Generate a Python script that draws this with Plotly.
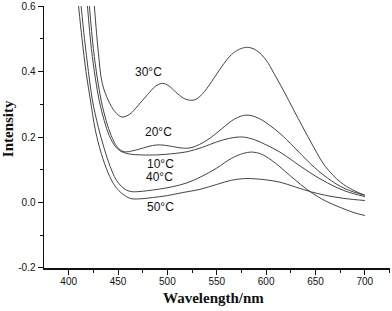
import plotly.graph_objects as go

wl_30 = [426, 430, 434, 440, 447, 454, 462, 470, 480, 488, 495, 502, 510, 518, 527, 535, 545, 555, 565, 573, 581, 590, 600, 608, 618, 628, 637, 648, 660, 675, 688, 700]
i_30 = [0.60, 0.46, 0.364, 0.313, 0.277, 0.261, 0.27, 0.295, 0.33, 0.355, 0.364, 0.355, 0.333, 0.316, 0.313, 0.33, 0.37, 0.415, 0.452, 0.468, 0.474, 0.465, 0.435, 0.394, 0.34, 0.282, 0.231, 0.17, 0.11, 0.063, 0.038, 0.022]

wl_20 = [421, 425, 429, 433, 438, 443, 449, 456, 465, 475, 485, 493, 503, 516, 525, 540, 555, 568, 580, 592, 603, 614, 628, 645, 662, 680, 700]
i_20 = [0.60, 0.47, 0.38, 0.31, 0.25, 0.205, 0.17, 0.155, 0.158, 0.166, 0.174, 0.176, 0.172, 0.166, 0.168, 0.19, 0.225, 0.255, 0.267, 0.258, 0.237, 0.211, 0.17, 0.118, 0.075, 0.042, 0.022]

wl_10 = [419, 423, 427, 431, 436, 441, 447, 453, 460, 468, 478, 488, 498, 508, 520, 535, 550, 563, 576, 588, 600, 614, 628, 645, 662, 680, 700]
i_10 = [0.60, 0.47, 0.38, 0.31, 0.25, 0.205, 0.172, 0.156, 0.149, 0.146, 0.145, 0.145, 0.147, 0.15, 0.155, 0.168, 0.185, 0.196, 0.2, 0.192, 0.176, 0.154, 0.125, 0.09, 0.06, 0.035, 0.018]

wl_40 = [412.6, 416, 420, 424, 430, 436, 442, 448, 455, 462, 470, 480, 492, 505, 520, 535, 550, 565, 577, 585, 595, 605, 614, 625, 635, 645, 660, 675, 688, 700]
i_40 = [0.60, 0.5, 0.4, 0.313, 0.23, 0.165, 0.11, 0.07, 0.045, 0.034, 0.033, 0.036, 0.041, 0.048, 0.06, 0.08, 0.105, 0.135, 0.15, 0.154, 0.148, 0.13, 0.109, 0.08, 0.055, 0.032, 0.005, -0.015, -0.03, -0.04]

wl_50 = [410, 413.5, 417.5, 422, 427, 433, 440, 447, 455, 463, 472, 485, 500, 515, 533, 550, 565, 578, 590, 600, 614, 630, 645, 660, 680, 700]
i_50 = [0.60, 0.5, 0.4, 0.313, 0.221, 0.15, 0.09, 0.05, 0.025, 0.012, 0.011, 0.015, 0.021, 0.03, 0.04, 0.055, 0.068, 0.073, 0.072, 0.069, 0.062, 0.047, 0.033, 0.022, 0.012, 0.006]

series = [("30°C", wl_30, i_30), ("20°C", wl_20, i_20), ("10°C", wl_10, i_10),
          ("40°C", wl_40, i_40), ("50°C", wl_50, i_50)]

label_text = ["30°C", "20°C", "10°C", "40°C", "50°C"]
label_x = [481, 490.6, 492.8, 491.9, 492.9]
label_y = [0.399, 0.216, 0.119, 0.078, -0.014]

x_ticks = [400, 450, 500, 550, 600, 650, 700]
y_ticks = [-0.2, 0.0, 0.2, 0.4, 0.6]
y_tick_text = ["-0.2", "0.0", "0.2", "0.4", "0.6"]

fig = go.Figure()
for name, x, y in series:
    fig.add_trace(go.Scatter(x=x, y=y, mode="lines", name=name,
                             line=dict(color="#444444", width=1, shape="spline", smoothing=1.0),
                             showlegend=False, hoverinfo="skip", cliponaxis=True))

for t, x, y in zip(label_text, label_x, label_y):
    fig.add_annotation(x=x, y=y, text=t, showarrow=False,
                       font=dict(family="Liberation Sans, Arial", size=12, color="#111111"))

fig.add_annotation(xref="paper", yref="paper", x=-0.104, y=0.53, text="<b>Intensity</b>",
                   textangle=-90, showarrow=False, xanchor="center", yanchor="middle",
                   font=dict(family="Liberation Serif, Times New Roman", size=15, color="#111111"))
fig.add_annotation(xref="paper", yref="paper", x=0.49, y=-0.1145, text="<b>Wavelength/nm</b>",
                   showarrow=False, xanchor="center", yanchor="middle",
                   font=dict(family="Liberation Serif, Times New Roman", size=15, color="#111111"))

axis_font = dict(family="Liberation Sans, Arial", size=10, color="#111111")
fig.update_xaxes(range=[375, 725.5], tickvals=x_ticks, ticks="outside", ticklen=5, tickwidth=1,
                 showline=True, linecolor="#111111", linewidth=1.5, showgrid=False, zeroline=False,
                 tickfont=axis_font, tickcolor="#111111", automargin=False, ticklabelstandoff=-2,
                 minor=dict(ticks="outside", ticklen=3, tickvals=[425, 475, 525, 575, 625, 675, 725], tickcolor="#111111"))
fig.update_yaxes(range=[-0.2002, 0.6002], tickvals=y_ticks, ticktext=y_tick_text, ticks="outside", ticklen=5, tickwidth=1,
                 showline=True, linecolor="#111111", linewidth=1.5, showgrid=False, zeroline=False,
                 tickfont=axis_font, tickcolor="#111111", automargin=False,
                 minor=dict(ticks="outside", ticklen=3, tickvals=[-0.1, 0.1, 0.3, 0.5], tickcolor="#111111"))

fig.update_layout(width=392, height=311, margin=dict(l=44, r=2, t=6, b=43),
                  plot_bgcolor="white", paper_bgcolor="white")
fig.write_html("out.html", config={"displayModeBar": False, "staticPlot": True},
               post_script="document.body.style.margin='0';document.body.style.overflow='hidden';")
